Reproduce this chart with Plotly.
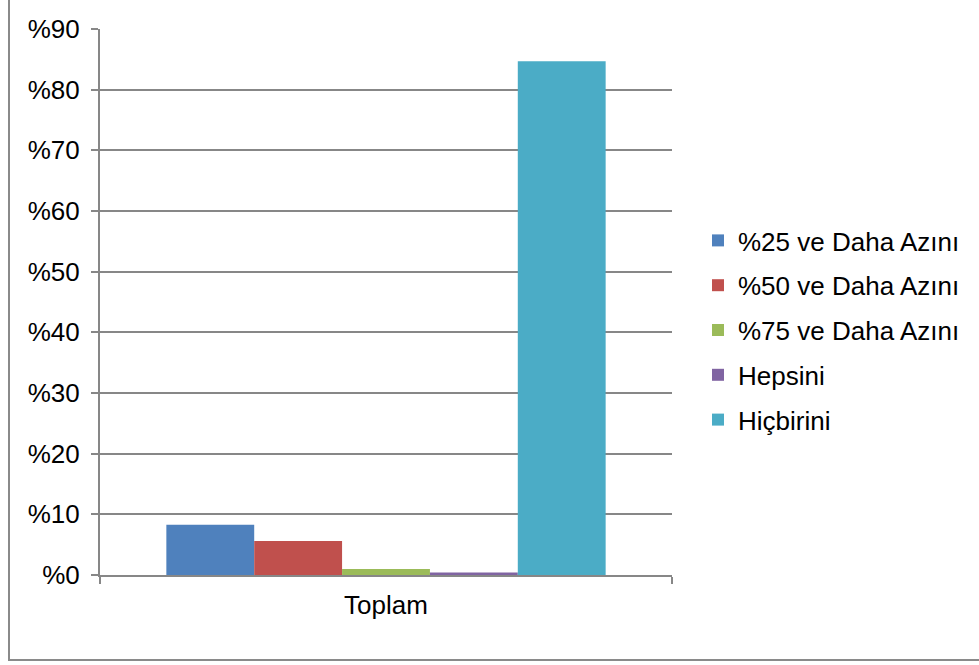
import plotly.graph_objects as go

# Data
category = ["Toplam"]
series_names = ["%25 ve Daha Azını", "%50 ve Daha Azını", "%75 ve Daha Azını", "Hepsini", "Hiçbirini"]
series_values = [8.3, 5.6, 1.0, 0.4, 84.7]
series_colors = ["#4F81BD", "#C0504D", "#9BBB59", "#8064A2", "#4BACC6"]
y_ticks = [0, 10, 20, 30, 40, 50, 60, 70, 80, 90]
y_tick_labels = ["%" + str(v) for v in y_ticks]

W, H = 979, 665
L, R, T, B = 100, 307, 29, 90
pw, ph = W - L - R, H - T - B

fig = go.Figure()
for i, (name, val, col) in enumerate(zip(series_names, series_values, series_colors)):
    fig.add_trace(go.Bar(
        x=category, y=[val], name=name, marker=dict(color=col, line=dict(width=0)),
        legendgroup=f"g{i}",
    ))

grid = "#878787"
font = "Liberation Sans, Arial, sans-serif"
fsize = 26

def px_x(p):
    return (p - L) / pw

def px_y(p):
    return (H - B - p) / ph

fig.update_layout(
    width=W, height=H,
    margin=dict(l=L, r=R, t=T, b=B),
    paper_bgcolor="white", plot_bgcolor="white",
    barmode="group", bargap=0.232, bargroupgap=0,
    font=dict(family=font, size=fsize, color="#000000"),
    showlegend=True,
    legend=dict(
        x=px_x(698), y=px_y(217), xanchor="left", yanchor="top",
        font=dict(family=font, size=fsize, color="#000000"),
        traceorder="grouped", tracegroupgap=8,
        itemwidth=30, bgcolor="rgba(0,0,0,0)",
    ),
    xaxis=dict(
        range=[-0.5, 0.5], showgrid=False, zeroline=False,
        showline=True, linecolor=grid, linewidth=2,
        ticks="outside", tickson="boundaries", ticklen=7, tickcolor=grid, tickwidth=2,
        tickfont=dict(family=font, size=fsize, color="#000000"),
        ticklabelstandoff=6,
        fixedrange=True,
    ),
    yaxis=dict(
        range=[0, 90], tickvals=y_ticks, ticktext=y_tick_labels,
        showgrid=True, gridcolor=grid, gridwidth=2, zeroline=False,
        showline=True, linecolor=grid, linewidth=2,
        ticks="outside", ticklen=7, tickcolor=grid, tickwidth=2,
        tickfont=dict(family=font, size=fsize, color="#000000"),
        ticklabelstandoff=6,
        fixedrange=True,
    ),
    shapes=[dict(
        type="rect", xref="paper", yref="paper",
        x0=px_x(9), x1=px_x(W + 20), y0=px_y(660), y1=px_y(-10),
        line=dict(color="#8a8a8a", width=2), fillcolor="rgba(0,0,0,0)", layer="below",
    )],
)

fig.write_html("out.html")
